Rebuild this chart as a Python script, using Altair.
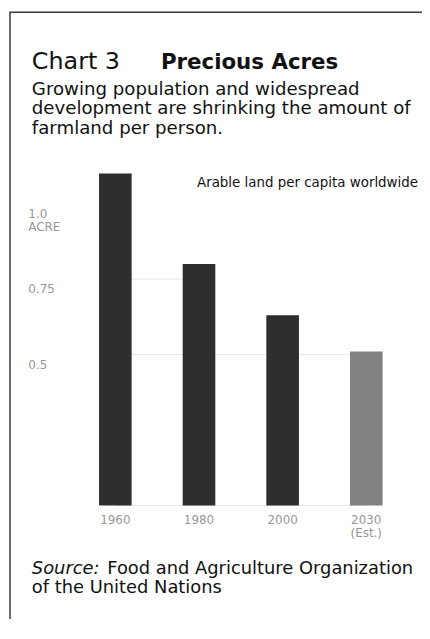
import json
import altair as alt
import pandas as pd

# ---------------- data ----------------
years = ["1960", "1980", "2000", "2030"]
acres = [1.10, 0.80, 0.63, 0.51]
kinds = ["Actual", "Actual", "Actual", "Estimate"]
kind_names = ["Actual", "Estimate"]
kind_colors = ["#2e2e2e", "#828282"]

x_label_lines = [["1960"], ["1980"], ["2000"], ["2030", "(Est.)"]]
y_ticks = [0.5, 0.75, 1.0]
y_tick_labels = [["0.5"], ["0.75"], ["1.0", "ACRE"]]

grid_values = [0.0, 0.5, 0.75]
grid_from = ["1960", "1960", "1960"]
grid_to = ["2030", "2030", "1980"]

title_a = "Chart 3"
title_b = "Precious Acres"
subtitle = "Growing population and widespread\ndevelopment are shrinking the amount of\nfarmland per person."
note = "Arable land per capita worldwide"
source_a = "Source:"
source_b = "Food and Agriculture Organization"
source_c = "of the United Nations"

FONT = "DejaVu Sans"
PLOT_W, PLOT_H = 337, 365

bars_df = pd.DataFrame({"year": years, "acres": acres, "kind": kinds})
grid_df = pd.DataFrame({"value": grid_values, "start": grid_from, "end": grid_to})

# label expressions built from the lists
y_expr = "''"
for v, lab in zip(y_ticks, y_tick_labels):
    y_expr = f"datum.value == {v} ? {json.dumps(lab)} : " + y_expr
x_expr = "datum.value"
for yr, lab in zip(years, x_label_lines):
    x_expr = f"datum.value == '{yr}' ? {json.dumps(lab)} : " + x_expr

x_scale = alt.Scale(domain=years, paddingInner=0.61, paddingOuter=0.305)
y_scale = alt.Scale(domain=[0, 1.2], nice=False, zero=True)

# ---------------- layers ----------------
bars = alt.Chart(bars_df).mark_bar().encode(
    x=alt.X(
        "year:N", scale=x_scale, title=None,
        axis=alt.Axis(
            labelExpr=x_expr, labelAngle=0, labelAlign="center",
            labelBaseline="top", labelPadding=9, labelLineHeight=13.5,
            tickSize=0, ticks=False, domain=False, grid=False,
            labelFont=FONT, labelFontSize=12, labelColor="#979797",
        ),
    ),
    y=alt.Y(
        "acres:Q", scale=y_scale, title=None,
        axis=alt.Axis(
            values=y_ticks, labelExpr=y_expr, labelAlign="left",
            labelBaseline="top", labelPadding=46, labelOffset=4.5,
            labelLineHeight=13.5, tickSize=0, ticks=False, domain=False,
            grid=False, labelFont=FONT, labelFontSize=12,
            labelColor="#979797",
        ),
    ),
    color=alt.Color("kind:N", scale=alt.Scale(domain=kind_names, range=kind_colors), legend=None),
)

grid = alt.Chart(grid_df).mark_rule(color="#e6e6e6", strokeWidth=1).encode(
    x=alt.X("start:N", scale=x_scale, title=None),
    x2="end:N",
    y=alt.Y("value:Q", scale=y_scale, title=None),
)

frame = alt.Chart(pd.DataFrame({"f": [0]})).mark_rect(
    fillOpacity=0, stroke="#3a3a3a", strokeWidth=1.5
).encode(
    x=alt.value(-64), x2=alt.value(420),
    y=alt.value(-132), y2=alt.value(600),
)


def text_layer(txt, x, y, size, weight="normal", style="normal", align="left",
               baseline="alphabetic", color="#111111", line_height=None):
    kw = dict(font=FONT, fontSize=size, fontWeight=weight, fontStyle=style,
              align=align, baseline=baseline, color=color)
    if line_height is not None:
        kw["lineBreak"] = "\n"
        kw["lineHeight"] = line_height
    return alt.Chart(pd.DataFrame({"t": [txt]})).mark_text(**kw).encode(
        x=alt.value(x), y=alt.value(y), text="t:N"
    )


t_a = text_layer(title_a, -42, -75, 24)
t_b = text_layer(title_b, 88, -75, 21.5, weight="bold")
t_sub = text_layer(subtitle, -42, -49, 18.3, line_height=20)
t_note = text_layer(note, 347, 40, 13.5, align="right", baseline="middle")
s_a = text_layer(source_a, -42, 434, 18, style="italic")
s_b = text_layer(source_b, 34, 434, 18)
s_c = text_layer(source_c, -42, 453.5, 18)

chart = alt.layer(
    grid, bars, frame, t_a, t_b, t_sub, t_note, s_a, s_b, s_c
).properties(
    width=PLOT_W, height=PLOT_H,
    padding={"left": 66, "top": 134, "right": 14, "bottom": 112},
    autosize=alt.AutoSizeParams(type="none"),
    background="white",
).configure_view(strokeWidth=0)

chart.save("out.html", embed_options={"renderer": "svg", "actions": False})
